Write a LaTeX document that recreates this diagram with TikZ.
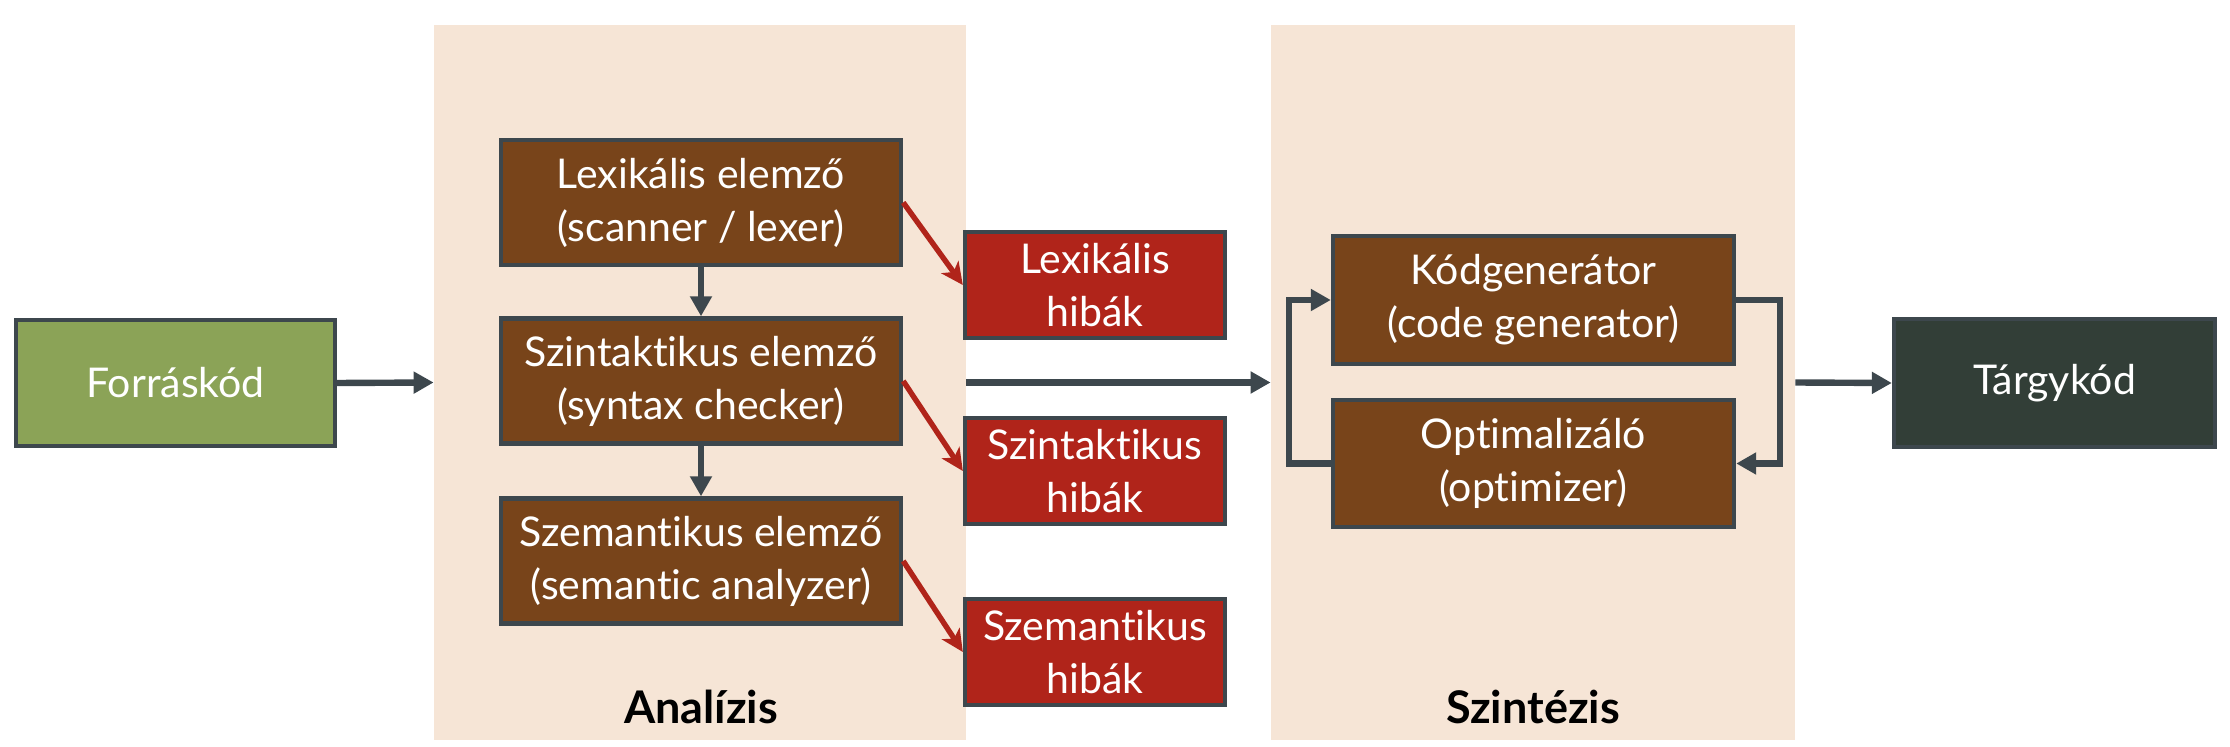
\documentclass[tikz,border=0pt]{standalone}
\usepackage{fontspec}
\setmainfont{Lato}[Ligatures={NoCommon,NoRare}]
\usetikzlibrary{arrows.meta}
\definecolor{panelc}{HTML}{F6E5D6}
\definecolor{greenc}{HTML}{8BA357}
\definecolor{brownc}{HTML}{78441A}
\definecolor{redc}{HTML}{B0241A}
\definecolor{darkc}{HTML}{323E37}
\definecolor{linec}{HTML}{3D474D}
\tikzset{
  basebox/.style={draw=linec, line width=2.2pt, inner sep=0pt, align=center,
    text=white, font=\fontsize{20.5}{26.5}\selectfont},
  brownbox/.style={basebox, fill=brownc, minimum width=200pt, minimum height=62.5pt},
  errbox/.style={basebox, fill=redc, minimum width=130pt, minimum height=53pt},
  panel/.style={fill=panelc, draw=none, inner sep=0pt, minimum width=#1, minimum height=357.5pt},
  flow/.style={draw=linec, line width=3.2pt, -{Triangle[length=10pt,width=10.5pt]}},
  errflow/.style={draw=redc, line width=2.7pt, -{Stealth[length=11pt,width=10.5pt,inset=3pt]}},
  lbl/.style={font=\bfseries\fontsize{22.5}{26}\selectfont, text=black}
}
\begin{document}
\begin{tikzpicture}[x=0.5pt,y=-0.5pt]
\useasboundingbox (0,0) rectangle (2230,747);
% panels
\node[panel=266pt] (pa) at (700,382.5) {};
\node[panel=262pt] (ps) at (1533,382.5) {};
\node[lbl] (la) at (701,707) {Analízis};
\node[lbl] (ls) at (1533,707) {Szintézis};
% source / target
\node[basebox, fill=greenc, minimum width=159.5pt, minimum height=63pt] (src) at (175.5,383) {Forráskód};
\node[basebox, fill=darkc, minimum width=160.5pt, minimum height=64pt] (tgt) at (2054.5,383) {Tárgykód};
% analysis boxes
\node[brownbox] (lex) at (701,202.5) {Lexikális elemző\\(scanner / lexer)};
\node[brownbox] (szi) at (701,381) {Szintaktikus elemző\\(syntax checker)};
\node[brownbox] (sze) at (701,561) {Szemantikus elemző\\(semantic analyzer)};
% error boxes
\node[errbox] (e1) at (1095,285) {Lexikális\\hibák};
\node[errbox] (e2) at (1095,471) {Szintaktikus\\hibák};
\node[errbox] (e3) at (1095,652) {Szemantikus\\hibák};
% synthesis boxes
\node[brownbox, minimum width=200.5pt, minimum height=64pt] (kod) at (1533.5,300) {Kódgenerátor\\(code generator)};
\node[brownbox, minimum width=200.5pt, minimum height=63.5pt] (opt) at (1533.5,463.5) {Optimalizáló\\(optimizer)};
% connectors
\draw[flow] (src.east) -- (pa.west);
\draw[flow] (lex.south) -- (szi.north);
\draw[flow] (szi.south) -- (sze.north);
\draw[errflow] (lex.east) -- (e1.west);
\draw[errflow] (szi.east) -- (e2.west);
\draw[errflow] (sze.east) -- (e3.west);
\draw[flow] (pa.east) -- (ps.west);
\draw[flow] (ps.east) -- (tgt.west);
\draw[flow] (opt.west) -- ++(-42,0) |- (kod.west);
\draw[flow] (kod.east) -- ++(44,0) |- (opt.east);
\end{tikzpicture}
\end{document}
